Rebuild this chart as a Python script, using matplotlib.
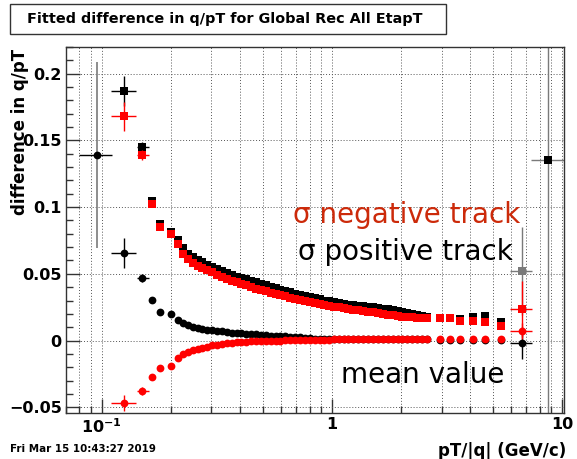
import matplotlib
matplotlib.use("Agg")
import matplotlib.pyplot as plt
from matplotlib.patches import Rectangle
from matplotlib.ticker import LogLocator, MultipleLocator, FixedLocator, FixedFormatter, NullFormatter
import numpy as np

# bin centres in pT/|q| (GeV/c), shared by all four series
pt = [0.125, 0.15, 0.165, 0.18, 0.2, 0.215, 0.226, 0.237, 0.249, 0.261,
      0.274, 0.288, 0.302, 0.317, 0.333, 0.35, 0.367, 0.386, 0.405, 0.425,
      0.446, 0.469, 0.492, 0.517, 0.543, 0.57, 0.598, 0.628, 0.66, 0.693,
      0.727, 0.764, 0.802, 0.842, 0.884, 0.928, 0.975, 1.02, 1.07, 1.13,
      1.18, 1.24, 1.3, 1.37, 1.44, 1.51, 1.59, 1.66, 1.75, 1.84,
      1.93, 2.02, 2.12, 2.23, 2.34, 2.46, 2.58, 2.94, 3.25, 3.6,
      4.1, 4.65, 5.45, 6.7]

# sigma, positive tracks (black squares)
sig_pos = [0.187, 0.145, 0.1044, 0.087, 0.0815, 0.075, 0.069, 0.065, 0.0625, 0.060,
           0.0585, 0.0565, 0.055, 0.0533, 0.052, 0.0505, 0.049, 0.048, 0.047, 0.046,
           0.045, 0.0438, 0.0426, 0.0414, 0.0403, 0.0392, 0.0382, 0.0372, 0.0362, 0.0352,
           0.0343, 0.0334, 0.0325, 0.0316, 0.0308, 0.0300, 0.0293, 0.0287, 0.0281, 0.0275,
           0.0270, 0.0265, 0.0260, 0.0256, 0.0252, 0.0248, 0.0244, 0.0240, 0.0235, 0.0229,
           0.0222, 0.0215, 0.0210, 0.0200, 0.0190, 0.0183, 0.0178, 0.0172, 0.0170, 0.0160,
           0.0178, 0.0186, 0.0140, 0.052]

# sigma, negative tracks (red squares)
sig_neg = [0.168, 0.139, 0.1027, 0.0852, 0.0795, 0.072, 0.065, 0.061, 0.058, 0.056,
           0.0545, 0.0525, 0.051, 0.0493, 0.0478, 0.0463, 0.045, 0.0437, 0.0425, 0.0413,
           0.0402, 0.039, 0.038, 0.037, 0.036, 0.035, 0.034, 0.0331, 0.0322, 0.0313,
           0.0305, 0.0297, 0.0289, 0.0281, 0.0274, 0.0267, 0.026, 0.0254, 0.0248, 0.0242,
           0.0237, 0.0232, 0.0227, 0.0222, 0.0217, 0.0212, 0.0205, 0.0198, 0.0192, 0.0188,
           0.0184, 0.018, 0.0177, 0.0174, 0.0171, 0.0169, 0.0168, 0.0166, 0.0166, 0.0148,
           0.0149, 0.0142, 0.011, 0.024]

# mean value, positive tracks (black circles)
mean_pos = [0.0657, 0.0467, 0.0303, 0.0216, 0.0198, 0.0153, 0.013, 0.0113, 0.0102, 0.0094,
            0.0087, 0.0081, 0.0076, 0.0072, 0.0068, 0.0064, 0.006, 0.0057, 0.0054, 0.0051,
            0.0049, 0.0046, 0.0043, 0.004, 0.0037, 0.0035, 0.0033, 0.0031, 0.0029, 0.0026,
            0.0023, 0.002, 0.0017, 0.0015, 0.0013, 0.0012, 0.0011, 0.001, 0.001, 0.001,
            0.001, 0.001, 0.001, 0.001, 0.0009, 0.0009, 0.0009, 0.0009, 0.0009, 0.0009,
            0.0008, 0.0008, 0.0008, 0.0008, 0.0008, 0.0008, 0.0008, 0.0006, 0.0005, 0.0004,
            0.0004, 0.0003, 0.0003, -0.0016]

# mean value, negative tracks (red circles)
mean_neg = [-0.047, -0.0376, -0.0271, -0.0208, -0.019, -0.0131, -0.0098, -0.0085, -0.0074, -0.0064,
            -0.0056, -0.0045, -0.0036, -0.003, -0.0025, -0.002, -0.0016, -0.0013, -0.001, -0.0008,
            -0.0006, -0.0004, -0.0003, -0.0002, -0.0001, 0.0, 0.0, 0.0001, 0.0002, 0.0003,
            0.0004, 0.0005, 0.0005, 0.0006, 0.0006, 0.0007, 0.0007, 0.0008, 0.0008, 0.0008,
            0.0009, 0.0009, 0.0009, 0.001, 0.001, 0.001, 0.001, 0.001, 0.001, 0.001,
            0.001, 0.001, 0.001, 0.001, 0.001, 0.001, 0.001, 0.001, 0.001, 0.001,
            0.001, 0.001, 0.001, 0.0073]

# extra points outside the shared bins
low_pt, low_mean_pos, low_mean_pos_err = 0.095, 0.139, 0.070
high_pt, high_sig_pos, high_sig_pos_err = 8.7, 0.1356, 0.30

# visible error bars: (pt, value, y error, bin low edge, bin high edge)
err_sig_pos = [(0.125, 0.187, 0.011, 0.1095, 0.141), (0.15, 0.145, 0.004, 0.142, 0.16)]
err_sig_neg = [(0.125, 0.168, 0.011, 0.1095, 0.141), (0.15, 0.139, 0.004, 0.142, 0.16),
               (6.7, 0.024, 0.021, 5.92, 7.37)]
err_mean_pos = [(0.125, 0.0657, 0.011, 0.1095, 0.141), (0.15, 0.0467, 0.003, 0.142, 0.16),
                (6.7, -0.0016, 0.012, 5.92, 7.37)]
err_mean_neg = [(0.125, -0.047, 0.006, 0.1095, 0.141), (0.15, -0.0376, 0.003, 0.142, 0.16),
                (6.7, 0.0073, 0.006, 5.92, 7.37)]
err_gray = [(6.7, 0.052, 0.033, 5.92, 7.37), (8.7, 0.1356, 0.30, 7.32, 10.6)]

y_ticks = [-0.05, 0, 0.05, 0.1, 0.15, 0.2]
y_ticklabels = ["\u22120.05", "0", "0.05", "0.1", "0.15", "0.2"]
x_ticks = [0.1, 1, 10]
x_ticklabels = [r"$\mathbf{10^{-1}}$", "1", "10"]

RED = "#ff0000"
GRAY = "#7a7a7a"

fig = plt.figure(figsize=(5.77, 4.59), dpi=100)
ax = fig.add_axes([66/577, 46/459, 498/577, 366/459])
ax.set_xscale("log")
ax.set_xlim(0.07, 10.2)
ax.set_ylim(-0.0543, 0.22)

grid_style = dict(color="#555555", linestyle=(0, (1, 2)), linewidth=0.7)
ax.grid(True, which="both", axis="x", **grid_style)
ax.grid(True, which="major", axis="y", **grid_style)
ax.set_axisbelow(True)


def draw_err(rows, color, z):
    for x, y, ye, lo, hi in rows:
        ax.errorbar([x], [y], yerr=[ye], xerr=[[x - lo], [hi - x]], fmt="none",
                    ecolor=color, elinewidth=1.0, capsize=0, zorder=z)


draw_err(err_gray, GRAY, 2)
ax.errorbar([low_pt], [low_mean_pos], yerr=[low_mean_pos_err], fmt="none",
            ecolor=GRAY, elinewidth=1.2, capsize=0, zorder=2)
ax.errorbar([low_pt], [low_mean_pos], xerr=[[low_pt - 0.0798], [0.1106 - low_pt]],
            fmt="none", ecolor="black", elinewidth=1.0, capsize=0, zorder=2)
draw_err(err_sig_pos, "black", 2)
draw_err(err_mean_pos, "black", 2)
draw_err(err_sig_neg, RED, 4)
draw_err(err_mean_neg, RED, 4)

# positive tracks
ax.plot(pt[:-1], sig_pos[:-1], "s", color="black", ms=6.2, mew=0, zorder=3)
ax.plot(pt[-1:], sig_pos[-1:], "s", color=GRAY, ms=6.2, mew=0, zorder=3)
ax.plot([high_pt], [high_sig_pos], "s", color="black", ms=6.2, mew=0, zorder=3)
ax.plot([low_pt] + pt, [low_mean_pos] + mean_pos, "o", color="black", ms=5.6, mew=0, zorder=3)

# negative tracks
ax.plot(pt, sig_neg, "s", color=RED, ms=6.2, mew=0, zorder=5)
ax.plot(pt, mean_neg, "o", color=RED, ms=5.6, mew=0, zorder=5)

ax.xaxis.set_major_locator(FixedLocator(x_ticks))
ax.xaxis.set_major_formatter(FixedFormatter(x_ticklabels))
ax.xaxis.set_minor_locator(LogLocator(base=10, subs=[2, 3, 4, 5, 6, 7, 8, 9]))
ax.xaxis.set_minor_formatter(NullFormatter())
ax.yaxis.set_major_locator(FixedLocator(y_ticks))
ax.yaxis.set_major_formatter(FixedFormatter(y_ticklabels))
ax.yaxis.set_minor_locator(MultipleLocator(0.01))

ax.tick_params(which="both", direction="in", top=False, right=False, color="#333333")
ax.tick_params(which="major", length=10, width=1.0, labelsize=11.5, pad=3)
ax.tick_params(which="minor", length=5, width=1.0)
for lab in ax.get_xticklabels() + ax.get_yticklabels():
    lab.set_fontweight("bold")
for s in ax.spines.values():
    s.set_color("#333333")
    s.set_linewidth(1.0)

# annotations
ax.text(0.455, 1 - (223 - 47) / 366, "\u03c3 negative track", transform=ax.transAxes,
        color="#cc2a0a", fontsize=20, va="baseline", ha="left")
ax.text(0.465, 1 - (260 - 47) / 366, "\u03c3 positive track", transform=ax.transAxes,
        color="black", fontsize=20, va="baseline", ha="left")
ax.text((341 - 66) / 498, 1 - (383 - 47) / 366, "mean value", transform=ax.transAxes,
        color="black", fontsize=20, va="baseline", ha="left")

# title box
fig.patches.append(Rectangle((10/577, 1 - 34/459), 436/577, 30/459, transform=fig.transFigure,
                             facecolor="white", edgecolor="#333333", linewidth=1.0))
fig.text(27/577, 1 - 19/459, "Fitted difference in q/pT for Global Rec All EtapT",
         fontsize=10.4, fontweight="bold", va="center", ha="left")

fig.text(20/577, 1 - 49/459, "difference in q/pT", rotation=90, fontsize=12,
         fontweight="bold", va="top", ha="center")
fig.text(566/577, 1 - 451/459, "pT/|q| (GeV/c)", fontsize=12, fontweight="bold",
         va="center", ha="right")
fig.text(10/577, 1 - 449/459, "Fri Mar 15 10:43:27 2019", fontsize=7.4,
         fontweight="bold", va="center", ha="left")

fig.savefig("out.png", dpi=100)
